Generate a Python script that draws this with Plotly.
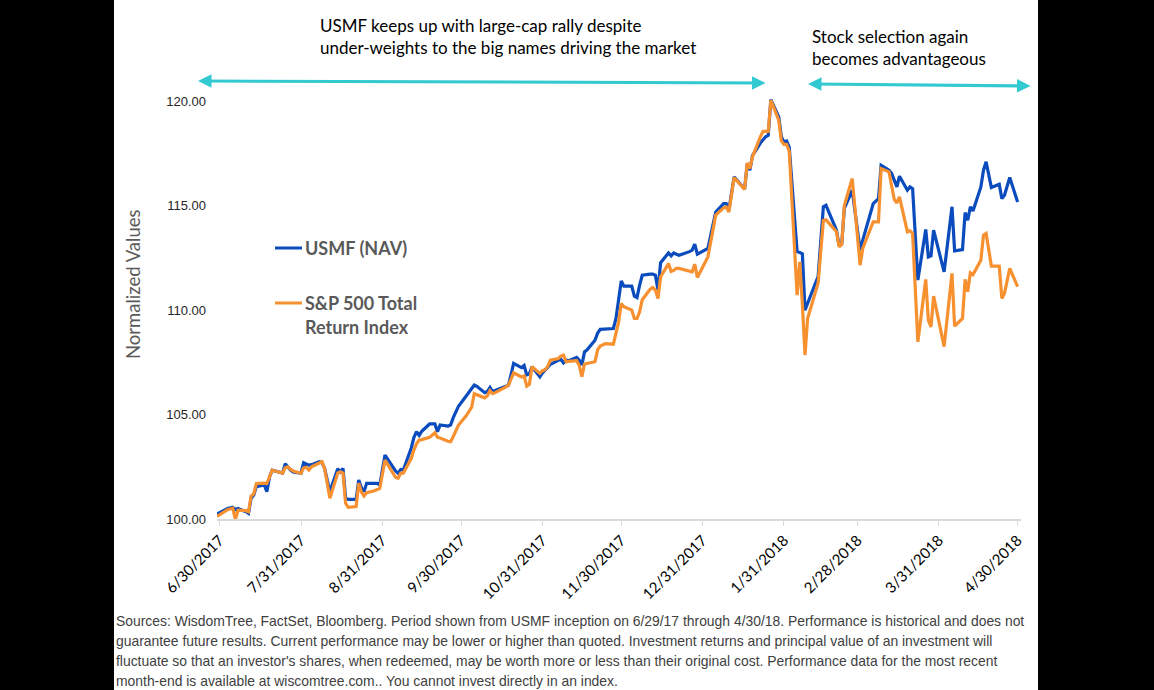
import plotly.graph_objects as go

dates = ["2017-06-29","2017-06-30","2017-07-03","2017-07-05","2017-07-06","2017-07-07","2017-07-10","2017-07-11","2017-07-12","2017-07-13","2017-07-14","2017-07-17","2017-07-18","2017-07-19","2017-07-20","2017-07-21","2017-07-24","2017-07-25","2017-07-26","2017-07-27","2017-07-28","2017-07-31","2017-08-01","2017-08-02","2017-08-03","2017-08-04","2017-08-07","2017-08-08","2017-08-09","2017-08-11","2017-08-14","2017-08-15","2017-08-16","2017-08-17","2017-08-18","2017-08-21","2017-08-22","2017-08-23","2017-08-24","2017-08-25","2017-08-28","2017-08-29","2017-08-30","2017-09-01","2017-09-05","2017-09-06","2017-09-07","2017-09-08","2017-09-11","2017-09-12","2017-09-13","2017-09-14","2017-09-15","2017-09-18","2017-09-19","2017-09-20","2017-09-21","2017-09-22","2017-09-25","2017-09-26","2017-09-27","2017-09-28","2017-09-29","2017-10-02","2017-10-04","2017-10-05","2017-10-06","2017-10-09","2017-10-10","2017-10-11","2017-10-12","2017-10-13","2017-10-16","2017-10-17","2017-10-18","2017-10-19","2017-10-20","2017-10-23","2017-10-24","2017-10-25","2017-10-26","2017-10-27","2017-10-30","2017-10-31","2017-11-01","2017-11-02","2017-11-03","2017-11-06","2017-11-07","2017-11-08","2017-11-09","2017-11-10","2017-11-13","2017-11-14","2017-11-15","2017-11-16","2017-11-17","2017-11-20","2017-11-21","2017-11-22","2017-11-24","2017-11-27","2017-11-28","2017-11-29","2017-11-30","2017-12-01","2017-12-04","2017-12-05","2017-12-06","2017-12-07","2017-12-08","2017-12-11","2017-12-12","2017-12-13","2017-12-14","2017-12-15","2017-12-18","2017-12-19","2017-12-20","2017-12-21","2017-12-22","2017-12-26","2017-12-27","2017-12-28","2017-12-29","2018-01-02","2018-01-05","2018-01-08","2018-01-09","2018-01-10","2018-01-12","2018-01-16","2018-01-17","2018-01-18","2018-01-19","2018-01-22","2018-01-23","2018-01-24","2018-01-25","2018-01-26","2018-01-29","2018-01-30","2018-01-31","2018-02-01","2018-02-02","2018-02-05","2018-02-06","2018-02-07","2018-02-08","2018-02-09","2018-02-12","2018-02-13","2018-02-15","2018-02-16","2018-02-20","2018-02-21","2018-02-22","2018-02-23","2018-02-26","2018-03-01","2018-03-02","2018-03-06","2018-03-08","2018-03-09","2018-03-12","2018-03-13","2018-03-14","2018-03-15","2018-03-16","2018-03-19","2018-03-20","2018-03-21","2018-03-23","2018-03-26","2018-03-27","2018-03-28","2018-03-29","2018-04-02","2018-04-05","2018-04-06","2018-04-09","2018-04-10","2018-04-11","2018-04-12","2018-04-13","2018-04-16","2018-04-17","2018-04-18","2018-04-20","2018-04-23","2018-04-24","2018-04-25","2018-04-27","2018-04-30"]

usmf_nav = [100.25,100.30,100.50,100.56,100.45,100.50,100.35,100.27,100.99,101.15,101.55,101.63,101.31,102.00,102.34,102.30,102.20,102.65,102.50,102.34,102.25,102.19,102.69,102.62,102.58,102.60,102.74,102.70,102.42,101.31,102.40,102.25,102.42,101.00,100.94,100.94,101.87,101.50,101.31,101.71,101.71,101.71,101.63,103.06,102.30,102.19,102.37,102.35,103.40,103.90,104.18,104.00,104.20,104.55,104.55,104.55,104.18,104.50,104.45,104.50,104.85,105.10,105.40,105.90,106.20,106.41,106.35,106.05,106.10,106.30,106.10,106.15,106.28,106.33,106.40,106.90,107.45,107.25,107.35,106.90,106.95,107.29,106.81,107.00,107.15,107.25,107.40,107.60,107.64,107.48,107.60,107.58,107.74,107.60,107.37,108.00,108.10,108.56,108.90,109.08,109.10,109.12,109.60,110.60,111.40,111.15,111.15,110.67,110.60,111.20,111.67,111.72,111.72,111.67,110.96,112.27,112.74,112.60,112.74,112.68,112.63,112.80,112.87,113.16,112.68,112.95,114.70,115.10,115.10,114.80,116.38,115.80,117.00,116.70,117.40,118.00,118.16,118.30,118.37,120.08,119.25,118.30,118.05,118.10,117.80,112.80,112.76,112.70,110.00,110.30,111.30,111.60,114.95,115.02,113.83,113.08,113.19,114.87,115.74,112.87,113.35,115.10,115.34,116.94,116.70,116.55,116.20,115.90,116.41,115.74,115.90,115.82,111.44,113.86,112.55,112.60,113.83,111.83,114.95,112.84,112.90,114.67,114.31,114.95,114.75,115.90,116.70,117.10,115.87,116.03,115.34,115.50,116.35,115.18]

sp500_tr = [100.12,100.20,100.45,100.52,99.98,100.42,100.40,100.35,101.10,101.20,101.70,101.72,101.71,102.00,102.34,102.30,102.20,102.45,102.50,102.38,102.30,102.19,102.45,102.48,102.34,102.50,102.70,102.74,102.42,100.99,102.20,102.26,102.20,100.75,100.56,100.60,101.71,101.30,101.10,101.26,101.35,101.39,101.47,102.82,102.00,101.95,102.20,102.20,102.90,103.30,103.60,103.78,103.80,103.91,104.00,104.13,103.91,103.88,103.72,103.70,103.95,104.20,104.50,104.95,105.35,106.00,105.95,105.80,105.90,106.15,106.00,106.05,106.25,106.33,106.40,106.70,107.00,106.80,106.85,106.36,106.45,107.29,106.97,107.10,107.15,107.30,107.60,107.68,107.80,107.85,107.53,107.55,107.58,107.35,106.81,107.42,107.45,107.53,108.10,108.28,108.40,108.37,108.90,109.44,110.32,110.16,110.00,109.60,109.60,109.92,110.50,111.00,111.08,110.96,110.56,111.60,112.23,111.85,111.90,112.00,112.00,111.85,111.83,112.20,111.56,112.55,114.55,114.90,114.94,114.70,116.35,115.78,117.05,116.78,117.34,118.30,118.56,118.56,118.56,120.05,119.09,118.10,117.94,117.94,117.60,110.72,112.31,110.30,107.85,109.60,110.90,111.30,114.29,114.32,113.75,113.03,113.14,115.02,116.30,112.15,112.95,114.23,114.23,116.78,116.62,116.00,115.30,115.13,115.42,113.75,113.80,113.67,108.48,111.47,109.52,109.20,110.67,108.25,111.76,109.23,109.60,111.47,110.88,111.79,111.70,112.39,113.59,113.67,112.11,112.11,110.56,110.80,112.00,111.12]

tick_dates = ["2017-06-30","2017-07-31","2017-08-31","2017-09-30","2017-10-31","2017-11-30","2017-12-31","2018-01-31","2018-02-28","2018-03-31","2018-04-30"]
tick_labels = ["6/30/2017","7/31/2017","8/31/2017","9/30/2017","10/31/2017","11/30/2017","12/31/2017","1/31/2018","2/28/2018","3/31/2018","4/30/2018"]
y_ticks = [100, 105, 110, 115, 120]

BLUE = "#0A4BBE"
ORANGE = "#F7902F"
CYAN = "#33C9D0"

W, H = 1154, 690
L, R, T, B = 217, 133, 95, 171
PW, PH = W - L - R, H - T - B

def px(x):
    return (x - L) / PW

def py(y):
    return (H - B - y) / PH

fig = go.Figure()
fig.add_trace(go.Scatter(x=dates, y=usmf_nav, mode="lines", name="USMF (NAV)",
                         line=dict(color=BLUE, width=3.2)))
fig.add_trace(go.Scatter(x=dates, y=sp500_tr, mode="lines", name="S&P 500 Total Return Index",
                         line=dict(color=ORANGE, width=3.2)))

shapes = [
    dict(type="rect", xref="paper", yref="paper", x0=px(114), x1=px(1038), y0=py(H + 5), y1=py(-5),
         fillcolor="white", line=dict(width=0), layer="below"),
    dict(type="line", xref="paper", yref="paper", x0=px(275), x1=px(302), y0=py(248), y1=py(248),
         line=dict(color=BLUE, width=3)),
    dict(type="line", xref="paper", yref="paper", x0=px(275), x1=px(302), y0=py(303), y1=py(303),
         line=dict(color=ORANGE, width=3)),
]

ann = []
def text(x, y, s, size, color="#000000", family="Lato", bold=False, xanchor="left"):
    ann.append(dict(xref="paper", yref="paper", x=px(x), y=py(y), text=("<b>%s</b>" % s) if bold else s,
                    showarrow=False, xanchor=xanchor, yanchor="middle",
                    font=dict(size=size, color=color, family=family)))

text(318, 25, "USMF keeps up with large-cap rally despite", 17)
text(318, 48, "under-weights to the big names driving the market", 17)
text(810, 36, "Stock selection again", 17)
text(810, 58, "becomes advantageous", 17)
text(303, 248, "USMF (NAV)", 18, "#595959", bold=True)
text(303, 303, "S&P 500 Total", 18, "#595959", bold=True)
text(303, 327, "Return Index", 18, "#595959", bold=True)

foot = [
    "Sources: WisdomTree, FactSet, Bloomberg. Period shown from USMF inception on 6/29/17 through 4/30/18. Performance is historical and does not",
    "guarantee future results. Current performance may be lower or higher than quoted. Investment returns and principal value of an investment will",
    "fluctuate so that an investor's shares, when redeemed, may be worth more or less than their original cost. Performance data for the most recent",
    "month-end is available at wiscomtree.com.. You cannot invest directly in an index.",
]
for i, s in enumerate(foot):
    text(114, 621 + 20 * i, s, 13.9, "#404040", family="Liberation Sans Narrow, Arial Narrow, Liberation Sans")

ann.append(dict(xref="paper", yref="paper", x=px(198), y=py(81), text="", showarrow=True,
                axref="pixel", ayref="pixel", ax=767 - 198, ay=83 - 81,
                arrowside="end+start", arrowhead=2, startarrowhead=2, arrowsize=0.9, startarrowsize=0.9,
                arrowwidth=3, arrowcolor=CYAN))
ann.append(dict(xref="paper", yref="paper", x=px(808), y=py(84), text="", showarrow=True,
                axref="pixel", ayref="pixel", ax=1032 - 808, ay=86 - 84,
                arrowside="end+start", arrowhead=2, startarrowhead=2, arrowsize=0.9, startarrowsize=0.9,
                arrowwidth=3, arrowcolor=CYAN))

ann.append(dict(xref="paper", yref="paper", x=px(133), y=py(285), text="Normalized Values",
                textangle=-90, showarrow=False, xanchor="center", yanchor="middle",
                font=dict(size=18.5, color="#595959", family="Lato")))

fig.update_layout(
    width=W, height=H,
    margin=dict(l=L, r=R, t=T, b=B, autoexpand=False),
    paper_bgcolor="black", plot_bgcolor="white",
    showlegend=False,
    shapes=shapes, annotations=ann,
    xaxis=dict(type="date", range=["2017-06-29", "2018-05-01 07:00"],
               tickmode="array", tickvals=tick_dates, ticktext=tick_labels, tickangle=-45,
               ticks="outside", ticklen=5, tickcolor="#D9D9D9", showgrid=False,
               showline=True, linecolor="#D9D9D9", linewidth=1.5, zeroline=False,
               tickfont=dict(family="Lato", size=15, color="#000000")),
    yaxis=dict(range=[100, 120.3], tickmode="array", tickvals=y_ticks,
               ticktext=["%.2f" % v for v in y_ticks], showgrid=False, zeroline=False,
               showline=False, ticks="", ticklabelstandoff=10,
               tickfont=dict(family="Liberation Sans", size=13, color="#262626")),
)

fig.write_html("out.html")
